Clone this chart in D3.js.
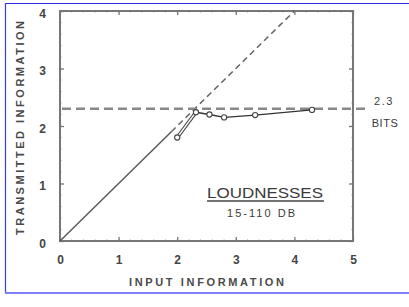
<!DOCTYPE html>
<html><head><meta charset="utf-8">
<script src="https://cdn.jsdelivr.net/npm/d3@7"></script>
<style>
html,body{margin:0;padding:0;background:#fff;}
svg{display:block;}
text{font-family:"Liberation Sans","DejaVu Sans",sans-serif;fill:#3a3a3a;}
</style></head>
<body>
<svg id="c" width="409" height="307"></svg>
<script>
// data
const inputBits = [2.0, 2.32, 2.55, 2.8, 3.33, 4.3];
const transmittedBits = [1.8, 2.24, 2.2, 2.15, 2.19, 2.28];
const channelCapacity = 2.3;
const xTicks = [0, 1, 2, 3, 4, 5];
const yTicks = [0, 1, 2, 3, 4];
const perfectLine = [[0, 0], [1.9, 1.9], [4, 4]];
const xTitle = "INPUT INFORMATION";
const yTitle = "TRANSMITTED INFORMATION";
const capLabel = ["2.3", "BITS"];
const legendTitle = "LOUDNESSES";
const legendSub = "15-110 DB";

const svg = d3.select("#c");
const L = 60, R = 353, T = 11, B = 241;
const x = d3.scaleLinear().domain([0, 5]).range([L, R]);
const y = d3.scaleLinear().domain([0, 4]).range([B, T]);

// outer blue frame
svg.append("line").attr("x1",5).attr("x2",409).attr("y1",3.5).attr("y2",3.5).attr("stroke","#2a2ae0").attr("stroke-width",1.2);
svg.append("line").attr("x1",5.5).attr("x2",5.5).attr("y1",3).attr("y2",293).attr("stroke","#3a3af0").attr("stroke-width",1.2);
svg.append("line").attr("x1",5).attr("x2",409).attr("y1",293).attr("y2",293).attr("stroke","#8080ff").attr("stroke-width",2);

// minor ticks
const g = svg.append("g");
const minorX = d3.range(0, 5.01, 0.2);
const minorY = d3.range(0, 4.01, 0.2);
minorX.forEach(v => {
  g.append("line").attr("x1",x(v)).attr("x2",x(v)).attr("y1",B).attr("y2",B-2).attr("stroke","#ccc").attr("stroke-width",1);
  g.append("line").attr("x1",x(v)).attr("x2",x(v)).attr("y1",T).attr("y2",T+2).attr("stroke","#ccc").attr("stroke-width",1);
});
minorY.forEach(v => {
  g.append("line").attr("x1",L).attr("x2",L+2).attr("y1",y(v)).attr("y2",y(v)).attr("stroke","#ccc").attr("stroke-width",1);
  g.append("line").attr("x1",R).attr("x2",R-2).attr("y1",y(v)).attr("y2",y(v)).attr("stroke","#ccc").attr("stroke-width",1);
});

// axes via d3
const xAxis = d3.axisBottom(x).tickValues(xTicks).tickSize(-4).tickPadding(14).tickFormat(d3.format("d"));
const xAxisTop = d3.axisTop(x).tickValues(xTicks).tickSize(-4).tickFormat("");
const yAxis = d3.axisLeft(y).tickValues(yTicks).tickSize(-4).tickPadding(14).tickFormat(d3.format("d"));
const yAxisR = d3.axisRight(y).tickValues(yTicks).tickSize(-4).tickFormat("");
function style(sel){
  sel.select(".domain").remove();
  sel.selectAll(".tick line").attr("stroke","#777").attr("stroke-width",1.3);
  sel.selectAll(".tick text").attr("font-size",12).attr("font-weight","bold").style("fill","#444");
}
svg.append("g").attr("transform",`translate(0,${B})`).call(xAxis).call(style);
svg.append("g").attr("transform",`translate(0,${T})`).call(xAxisTop).call(style);
const ya = svg.append("g").attr("transform",`translate(${L},0)`).call(yAxis).call(style);
ya.selectAll(".tick text").attr("dy","0.5em");
svg.append("g").attr("transform",`translate(${R},0)`).call(yAxisR).call(style);

// frame
svg.append("rect").attr("x",L).attr("y",T).attr("width",R-L).attr("height",B-T)
  .attr("fill","none").attr("stroke","#777").attr("stroke-width",2);

// perfect transmission line
const ln = d3.line().x(d=>x(d[0])).y(d=>y(d[1]));
svg.append("path").attr("d",ln(perfectLine.slice(0,2))).attr("stroke","#555").attr("stroke-width",1.4).attr("fill","none");
svg.append("path").attr("d",ln(perfectLine.slice(1))).attr("stroke","#666").attr("stroke-width",1.6)
  .attr("stroke-dasharray","6,4").attr("fill","none");

// capacity dashed line
svg.append("line").attr("x1",L+2).attr("x2",370).attr("y1",y(channelCapacity)).attr("y2",y(channelCapacity))
  .attr("stroke","#888").attr("stroke-width",2.6).attr("stroke-dasharray","9,5");
svg.append("text").attr("x",384).attr("y",105).attr("text-anchor","middle").attr("font-size",11).attr("letter-spacing",1.5).text(capLabel[0]);
svg.append("text").attr("x",385).attr("y",127).attr("text-anchor","middle").attr("font-size",11).attr("letter-spacing",0.5).text(capLabel[1]);

// data line (first segment drawn doubled as in original)
const pts = inputBits.map((v,i)=>[v, transmittedBits[i]]);
svg.append("path").attr("d",ln(pts.slice(0,2))).attr("stroke","#444").attr("stroke-width",3.6).attr("fill","none");
svg.append("path").attr("d",ln(pts.slice(0,2))).attr("stroke","#fff").attr("stroke-width",1.4).attr("fill","none");
svg.append("path").attr("d",ln(pts.slice(1))).attr("stroke","#333").attr("stroke-width",1.4).attr("fill","none");
svg.selectAll("circle.pt").data(pts).enter().append("circle").attr("class","pt")
  .attr("cx",d=>x(d[0])).attr("cy",d=>y(d[1])).attr("r",2.6)
  .attr("fill","#fff").attr("stroke","#444").attr("stroke-width",1.1);

// titles
svg.append("text").attr("x",(L+R)/2).attr("y",286).attr("text-anchor","middle").attr("font-size",11)
  .attr("font-weight","bold").style("fill","#4a4a4a")
  .attr("textLength",155).attr("lengthAdjust","spacing").text(xTitle);
svg.append("text").attr("transform",`translate(24,${(T+B)/2+2}) rotate(-90)`).attr("text-anchor","middle")
  .attr("font-size",11).attr("font-weight","bold").style("fill","#4a4a4a")
  .attr("textLength",214).attr("lengthAdjust","spacing").text(yTitle);

// legend label
svg.append("text").attr("x",265).attr("y",198).attr("text-anchor","middle").attr("font-size",15)
  .attr("textLength",116).attr("lengthAdjust","spacingAndGlyphs").text(legendTitle);
svg.append("line").attr("x1",207).attr("x2",324).attr("y1",201).attr("y2",201).attr("stroke","#444").attr("stroke-width",1.3);
svg.append("text").attr("x",261).attr("y",217).attr("text-anchor","middle").attr("font-size",11)
  .attr("textLength",68).attr("lengthAdjust","spacing").text(legendSub);
</script>
</body></html>
